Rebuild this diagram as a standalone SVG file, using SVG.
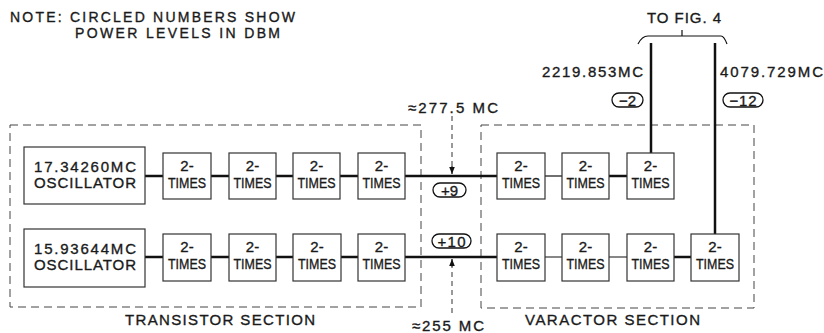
<svg xmlns="http://www.w3.org/2000/svg" width="824" height="333" viewBox="0 0 824 333">
<defs>
<style>
text{font-family:"Liberation Sans",Arial,sans-serif;fill:#1a1a1a;stroke:#1a1a1a;stroke-width:0.35;}
.t{font-size:15px;text-anchor:middle;}
.p{font-size:15px;text-anchor:middle;}
.lbl{font-size:15px;}
.nt{font-size:14px;}
.box{fill:#fff;stroke:#333;stroke-width:1.2;}
.sec{fill:none;stroke:#444;stroke-width:1;stroke-dasharray:8 5;}
.w{fill:none;stroke:#111;stroke-width:2.5;}
.thin{fill:none;stroke:#111;stroke-width:1.2;}
.dash{fill:none;stroke:#333;stroke-width:1;stroke-dasharray:5 4;}
.pill{fill:#fff;stroke:#111;stroke-width:1.3;}
</style>
<marker id="ah" viewBox="0 0 10 10" refX="10" refY="5" markerWidth="7" markerHeight="7" orient="auto" markerUnits="userSpaceOnUse"><path d="M0,1 L10,5 L0,9 Z" fill="#111"/></marker>
</defs>
<rect width="824" height="333" fill="#fff"/>

<g id="note">
<text class="nt" x="10" y="22" textLength="285" lengthAdjust="spacing">NOTE: CIRCLED NUMBERS SHOW</text>
<text class="nt" x="75" y="38" textLength="205" lengthAdjust="spacing">POWER LEVELS IN DBM</text>
</g>

<g id="sections">
<rect class="sec" x="10" y="125" width="411" height="182"/>
<rect class="sec" x="481" y="125" width="273" height="183"/>
<text class="lbl" x="125" y="325" textLength="190" lengthAdjust="spacing">TRANSISTOR SECTION</text>
<text class="lbl" x="525" y="325" textLength="175" lengthAdjust="spacing">VARACTOR SECTION</text>
</g>

<g id="connectors">
<path class="w" d="M145,176 H163 M211,176 H229 M276,176 H293 M340,176 H358 M405,176 H497"/>
<path class="thin" d="M545,176 H562"/>
<path class="w" d="M609,176 H627"/>
<path class="w" d="M651,153 V43"/>
<path class="w" d="M145,257 H163 M211,257 H229 M276,257 H293 M341,257 H358 M405,257 H497"/>
<path class="thin" d="M545,257 H562 M609,257 H627"/>
<path class="w" d="M674,257 H691"/>
<path class="w" d="M715,234 V43"/>
<path class="dash" d="M452,116 V166" />
<path class="thin" d="M452,166 V174" marker-end="url(#ah)"/>
<path class="dash" d="M452,313 V267" />
<path class="thin" d="M452,267 V259" marker-end="url(#ah)"/>
<path class="thin" d="M638,44 Q642,36 648,36 H721 Q724,36 727,44 M682,36 V30"/>
</g>

<g id="labels">
<text class="lbl" x="647" y="23" textLength="74" lengthAdjust="spacing">TO FIG. 4</text>
<text class="lbl" x="542" y="77" textLength="101" lengthAdjust="spacing">2219.853MC</text>
<text class="lbl" x="720" y="77" textLength="103" lengthAdjust="spacing">4079.729MC</text>
<text class="lbl" x="408" y="113" textLength="90" lengthAdjust="spacing">≈277.5 MC</text>
<text class="lbl" x="412" y="331" textLength="72" lengthAdjust="spacing">≈255 MC</text>
</g>

<g id="p-2"><rect class="pill" x="612" y="93" width="31" height="14" rx="7"/><text class="p" x="627.5" y="105.5">−2</text></g>
<g id="p-12"><rect class="pill" x="723" y="93" width="40" height="14" rx="7"/><text class="p" x="743" y="105.5" textLength="27" lengthAdjust="spacing">−12</text></g>
<g id="p9"><rect class="pill" x="433" y="183" width="33" height="14" rx="7"/><text class="p" x="449.5" y="195.5">+9</text></g>
<g id="p10"><rect class="pill" x="432" y="234" width="39" height="14" rx="7"/><text class="p" x="451.5" y="246.5" textLength="28" lengthAdjust="spacing">+10</text></g>

<g id="osc1"><rect class="box" x="24" y="147" width="121" height="57"/><text class="t" x="85" y="172" textLength="102" lengthAdjust="spacing">17.34260MC</text><text class="t" x="85" y="188" textLength="102" lengthAdjust="spacing">OSCILLATOR</text></g>
<g id="osc2"><rect class="box" x="24" y="229" width="121" height="58"/><text class="t" x="85" y="254" textLength="102" lengthAdjust="spacing">15.93644MC</text><text class="t" x="85" y="270" textLength="102" lengthAdjust="spacing">OSCILLATOR</text></g>

<g id="t1a"><rect class="box" x="163" y="153" width="48" height="46"/><text class="t" x="187" y="171">2-</text><text class="t" x="187" y="188" textLength="38" lengthAdjust="spacingAndGlyphs">TIMES</text></g>
<g id="t1b"><rect class="box" x="229" y="153" width="47" height="46"/><text class="t" x="252.5" y="171">2-</text><text class="t" x="252.5" y="188" textLength="38" lengthAdjust="spacingAndGlyphs">TIMES</text></g>
<g id="t1c"><rect class="box" x="293" y="153" width="47" height="46"/><text class="t" x="316.5" y="171">2-</text><text class="t" x="316.5" y="188" textLength="38" lengthAdjust="spacingAndGlyphs">TIMES</text></g>
<g id="t1d"><rect class="box" x="358" y="153" width="47" height="46"/><text class="t" x="381.5" y="171">2-</text><text class="t" x="381.5" y="188" textLength="38" lengthAdjust="spacingAndGlyphs">TIMES</text></g>
<g id="t1e"><rect class="box" x="497" y="153" width="48" height="46"/><text class="t" x="521" y="171">2-</text><text class="t" x="521" y="188" textLength="38" lengthAdjust="spacingAndGlyphs">TIMES</text></g>
<g id="t1f"><rect class="box" x="562" y="153" width="47" height="46"/><text class="t" x="585.5" y="171">2-</text><text class="t" x="585.5" y="188" textLength="38" lengthAdjust="spacingAndGlyphs">TIMES</text></g>
<g id="t1g"><rect class="box" x="627" y="153" width="47" height="46"/><text class="t" x="650.5" y="171">2-</text><text class="t" x="650.5" y="188" textLength="38" lengthAdjust="spacingAndGlyphs">TIMES</text></g>

<g id="t2a"><rect class="box" x="163" y="234" width="48" height="47"/><text class="t" x="187" y="252">2-</text><text class="t" x="187" y="269" textLength="38" lengthAdjust="spacingAndGlyphs">TIMES</text></g>
<g id="t2b"><rect class="box" x="229" y="234" width="47" height="47"/><text class="t" x="252.5" y="252">2-</text><text class="t" x="252.5" y="269" textLength="38" lengthAdjust="spacingAndGlyphs">TIMES</text></g>
<g id="t2c"><rect class="box" x="293" y="234" width="48" height="47"/><text class="t" x="317" y="252">2-</text><text class="t" x="317" y="269" textLength="38" lengthAdjust="spacingAndGlyphs">TIMES</text></g>
<g id="t2d"><rect class="box" x="358" y="234" width="47" height="47"/><text class="t" x="381.5" y="252">2-</text><text class="t" x="381.5" y="269" textLength="38" lengthAdjust="spacingAndGlyphs">TIMES</text></g>
<g id="t2e"><rect class="box" x="497" y="234" width="48" height="47"/><text class="t" x="521" y="252">2-</text><text class="t" x="521" y="269" textLength="38" lengthAdjust="spacingAndGlyphs">TIMES</text></g>
<g id="t2f"><rect class="box" x="562" y="234" width="47" height="47"/><text class="t" x="585.5" y="252">2-</text><text class="t" x="585.5" y="269" textLength="38" lengthAdjust="spacingAndGlyphs">TIMES</text></g>
<g id="t2g"><rect class="box" x="627" y="234" width="47" height="47"/><text class="t" x="650.5" y="252">2-</text><text class="t" x="650.5" y="269" textLength="38" lengthAdjust="spacingAndGlyphs">TIMES</text></g>
<g id="t2h"><rect class="box" x="691" y="234" width="48" height="47"/><text class="t" x="715" y="252">2-</text><text class="t" x="715" y="269" textLength="38" lengthAdjust="spacingAndGlyphs">TIMES</text></g>
</svg>
